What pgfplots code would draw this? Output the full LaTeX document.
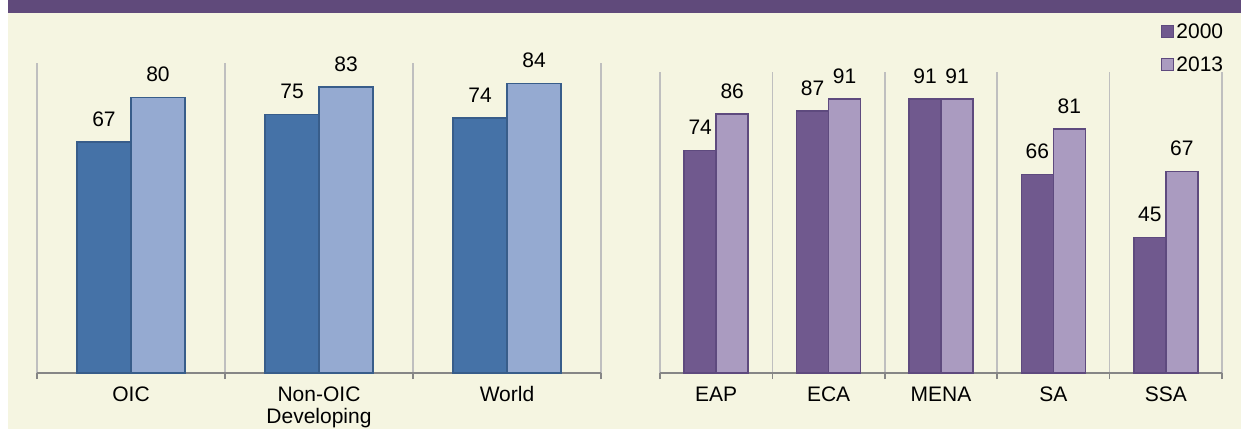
\documentclass[border=0pt]{standalone}
\usepackage{fontspec}
\setmainfont{Liberation Sans}
\usepackage{pgfplots}
\pgfplotsset{compat=1.18}
\definecolor{bg}{RGB}{245,245,225}
\definecolor{hdr}{RGB}{96,74,123}
\definecolor{ldark}{RGB}{69,114,167}
\definecolor{llight}{RGB}{149,170,209}
\definecolor{lborder}{RGB}{56,93,138}
\definecolor{rdark}{RGB}{112,89,142}
\definecolor{rlight}{RGB}{170,155,192}
\definecolor{rborder}{RGB}{94,74,126}
\definecolor{axisgray}{RGB}{134,134,134}
\definecolor{gridgray}{RGB}{191,191,191}
\pgfplotsset{
 mybar/.style={
  ybar=0pt, scale only axis, enlargelimits=false, ymin=0,
  axis x line*=bottom, axis y line=none,
  x axis line style={-, draw=axisgray, line width=1.5bp},
  major tick length=0pt, minor tick length=6bp, tick align=outside,
  xminorgrids, minor grid style={draw=gridgray, line width=1.5bp},
  minor tick style={draw=axisgray, line width=1.5bp},
  typeset ticklabels with strut,
  xticklabel style={font=\fontsize{21bp}{22bp}\selectfont, align=center, anchor=north, yshift=-12.6bp, inner sep=0pt},
  nodes near coords,
  nodes near coords style={font=\fontsize{21bp}{24bp}\selectfont, inner sep=0pt, anchor=south, yshift=15bp, text=black},
  /pgf/number format/assume math mode=true,
  clip=false,
 }
}
\begin{document}
\begin{tikzpicture}[x=1bp,y=1bp]
\useasboundingbox (0,0) rectangle (1241,429);
\fill[white] (0,0) rectangle (1241,429);
\fill[bg] (8,0) rectangle (1241,416);
\fill[hdr] (8,416) rectangle (1241,429);
\clip (0,0) rectangle (1241,429);
\begin{axis}[mybar, at={(37bp,56bp)}, anchor=south west,
  width=564bp, height=310bp, ymax=90, bar width=54bp,
  xmin=-0.5, xmax=2.5, xtick={0,1,2},
  xticklabels={OIC,{Non-OIC\\Developing},World},
  minor xtick={-0.5,0.5,1.5,2.5}]
\addplot[fill=ldark, draw=lborder, line width=1.5bp] coordinates {(0,67) (1,75) (2,74)};
\addplot[fill=llight, draw=lborder, line width=1.5bp] coordinates {(0,80) (1,83) (2,84)};
\end{axis}
\begin{axis}[mybar, at={(660bp,56bp)}, anchor=south west,
  width=562bp, height=301bp, ymax=100, bar width=32bp,
  xmin=-0.5, xmax=4.5, xtick={0,1,2,3,4},
  xticklabels={EAP,ECA,MENA,SA,SSA},
  minor xtick={-0.5,0.5,1.5,2.5,3.5,4.5},
  legend style={at={(rel axis cs:0.8915,1.168)}, anchor=north west, draw=none, fill=none,
    inner sep=0pt, row sep=13bp, font=\fontsize{21bp}{24bp}\selectfont,
    nodes={inner sep=2bp}},
  legend image code/.code={\draw[#1, line width=1.2bp] (0bp,-6bp) rectangle (12bp,6bp);}]
\addplot[fill=rdark, draw=rborder, line width=1.5bp] coordinates {(0,74) (1,87) (2,91) (3,66) (4,45)};
\addplot[fill=rlight, draw=rborder, line width=1.5bp] coordinates {(0,86) (1,91) (2,91) (3,81) (4,67)};
\legend{2000,2013}
\end{axis}
\end{tikzpicture}
\end{document}
